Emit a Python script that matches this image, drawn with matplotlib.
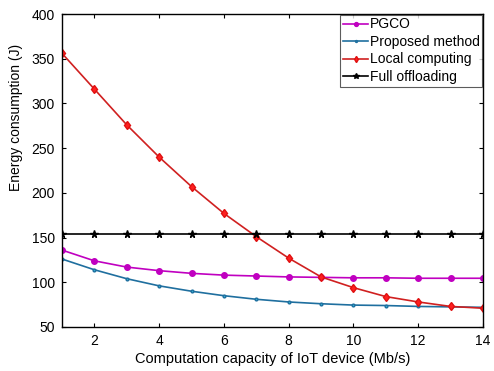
import matplotlib
matplotlib.use('Agg')
import matplotlib.pyplot as plt

plt.rcParams['font.family'] = ['Liberation Sans', 'DejaVu Sans']

# computation capacity of the IoT device (Mb/s)
capacity = [1, 2, 3, 4, 5, 6, 7, 8, 9, 10, 11, 12, 13, 14]

# energy consumption (J)
pgco = [136, 124, 117, 113, 110, 108, 107, 106, 105.5, 105, 105, 104.5, 104.5, 104.5]
proposed = [126, 114, 104, 96, 90, 85, 81, 78, 76, 74.5, 74, 73, 72.5, 72]
local = [356, 316, 276, 240, 207, 177, 151, 127, 106, 94, 84, 78, 73, 71]
full_off = [154] * len(capacity)

fig = plt.figure(figsize=(4.94, 3.71), dpi=100)
ax = fig.add_axes([62 / 494, 1 - 327 / 371, (483 - 62) / 494, (327 - 14) / 371])

ax.plot(capacity, pgco, color='#c000c0', marker='o', markersize=4, lw=1.2, label='PGCO')
ax.plot(capacity, proposed, color='#1f6f9f', marker='.', markersize=4, lw=1.2,
        markerfacecolor='#30b0d0', label='Proposed method')
ax.plot(capacity, local, color='#d02020', marker='d', markersize=4.5, lw=1.2,
        markerfacecolor='#ff2020', markeredgecolor='#e01010', label='Local computing')
ax.plot(capacity, full_off, color='black', marker='*', markersize=5.5, lw=1.2,
        label='Full offloading')

ax.set_xlim(1, 14)
ax.set_ylim(50, 400)
ax.set_xticks([2, 4, 6, 8, 10, 12, 14])
ax.set_yticks(range(50, 401, 50))
ax.tick_params(direction='in', top=True, right=True, labelsize=10, length=3, pad=5)
for s in ax.spines.values():
    s.set_linewidth(1.0)

ax.set_xlabel('Computation capacity of IoT device (Mb/s)', fontsize=10.5, labelpad=3)
ax.set_ylabel('Energy consumption (J)', fontsize=10)
ax.yaxis.set_label_coords(-0.092, 0.67)

leg = ax.legend(loc='upper right', fontsize=10, frameon=True, fancybox=False,
                edgecolor='#333333', borderpad=0.2, handlelength=1.8, handletextpad=0.1,
                labelspacing=0.25, borderaxespad=0.05, markerscale=0.7)
leg.get_frame().set_linewidth(0.8)

fig.savefig('out.png', dpi=100)
